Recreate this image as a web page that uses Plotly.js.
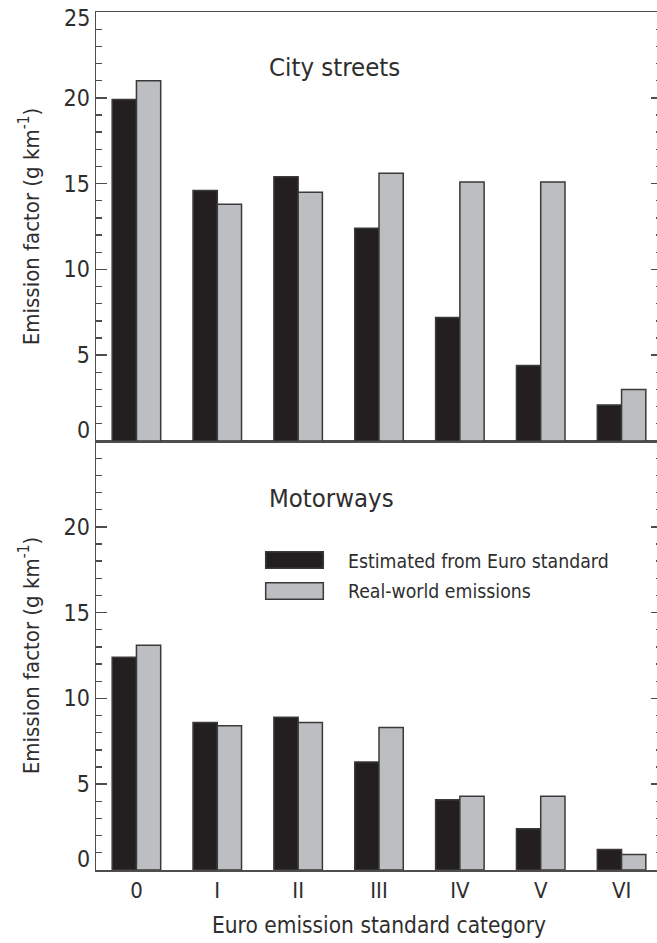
<!DOCTYPE html>
<html>
<head>
<meta charset="utf-8">
<script src="https://cdn.plot.ly/plotly-3.0.1.min.js"></script>
<style>
html,body{margin:0;padding:0;background:#fff;}
#wrap{width:657px;height:943px;overflow:hidden;position:relative;}
#chart{width:667px;height:943px;}
</style>
</head>
<body>
<div id="wrap"><div id="chart"></div></div>
<script>
// ---- data ----
const categories = ["0", "I", "II", "III", "IV", "V", "VI"];
const seriesNames = ["Estimated from Euro standard", "Real-world emissions"];
const cityEstimated = [19.9, 14.6, 15.4, 12.4, 7.2, 4.4, 2.1];
const cityRealWorld = [21.0, 13.8, 14.5, 15.6, 15.1, 15.1, 3.0];
const motorwayEstimated = [12.4, 8.6, 8.9, 6.3, 4.1, 2.4, 1.2];
const motorwayRealWorld = [13.1, 8.4, 8.6, 8.3, 4.3, 4.3, 0.9];
const yTickVals = [5, 10, 15, 20];
const yTickText = ["5", "10", "15", "20"];
const panelTitles = ["City streets", "Motorways"];
const yTitle = "Emission factor (g km<sup>-1</sup>)";
const xTitle = "Euro emission standard category";

// ---- style ----
const FONT = "'DejaVu Sans Condensed', 'Liberation Sans Narrow', sans-serif";
const TXT = "#2e2e2e";
const LINE = "#4d4d4d";
const DARK = "#231f20";
const GRAY = "#bcbec1";
const OUT = "#3a3a3a";

const barLine = {color: OUT, width: 1.5};
const traces = [
  {type: "bar", x: categories, y: cityEstimated, name: seriesNames[0], xaxis: "x2", yaxis: "y2",
   marker: {color: DARK, line: barLine}},
  {type: "bar", x: categories, y: cityRealWorld, name: seriesNames[1], xaxis: "x2", yaxis: "y2",
   marker: {color: GRAY, line: barLine}},
  {type: "bar", x: categories, y: motorwayEstimated, name: seriesNames[0], xaxis: "x", yaxis: "y",
   marker: {color: DARK, line: barLine}},
  {type: "bar", x: categories, y: motorwayRealWorld, name: seriesNames[1], xaxis: "x", yaxis: "y",
   marker: {color: GRAY, line: barLine}}
];

function yAxis(domain) {
  return {
    domain: domain, range: [0, 25], fixedrange: true,
    tickmode: "array", tickvals: yTickVals, ticktext: yTickText,
    ticks: "inside", ticklen: 11, tickwidth: 1.5, tickcolor: LINE,
    minor: {tickmode: "linear", tick0: 0, dtick: 1, ticks: "inside", ticklen: 6, tickwidth: 1.3, tickcolor: LINE},
    showline: true, linecolor: LINE, linewidth: 1.5, mirror: "ticks",
    showgrid: false, zeroline: false,
    tickfont: {family: FONT, size: 23, color: TXT},
    title: {text: yTitle, font: {family: FONT, size: 22, color: TXT}, standoff: 18},
    automargin: false
  };
}

const tickLabelFont = {family: FONT, size: 23, color: TXT};
function yLabelAnn(text, yref, y) {
  return {text: text, xref: "paper", yref: yref, x: 0, y: y, xanchor: "right", yanchor: "middle",
          xshift: -4, showarrow: false, font: tickLabelFont};
}

const layout = {
  width: 667, height: 943,
  margin: {l: 96, r: 5, t: 12, b: 73},
  paper_bgcolor: "#fff", plot_bgcolor: "#fff",
  showlegend: false,
  barmode: "group", bargap: 0.4, bargroupgap: 0,
  font: {family: FONT, color: TXT},
  xaxis: {
    anchor: "y", type: "category", categoryorder: "array", categoryarray: categories,
    range: [-0.5, categories.length - 0.5], fixedrange: true,
    showline: true, linecolor: LINE, linewidth: 1.5, mirror: true,
    ticks: "", showgrid: false, zeroline: false,
    tickfont: {family: FONT, size: 22, color: TXT},
    title: {text: xTitle, font: {family: FONT, size: 22.5, color: TXT}, standoff: 15},
    automargin: false
  },
  xaxis2: {
    anchor: "y2", matches: "x", type: "category",
    showline: true, linecolor: LINE, linewidth: 1.5, mirror: true,
    ticks: "", showticklabels: false, showgrid: false, zeroline: false
  },
  yaxis: yAxis([0, 0.5]),
  yaxis2: yAxis([0.5, 1]),
  annotations: [
    yLabelAnn("0", "y", 0.65),
    yLabelAnn("0", "y2", 0.65),
    yLabelAnn("25", "y2", 24.65),
    {text: panelTitles[0], xref: "paper", yref: "y2", x: 0.302, y: 21.8, xanchor: "left", yanchor: "middle",
     showarrow: false, font: {family: FONT, size: 25.5, color: TXT}},
    {text: panelTitles[1], xref: "paper", yref: "y", x: 0.302, y: 21.7, xanchor: "left", yanchor: "middle",
     showarrow: false, font: {family: FONT, size: 25.5, color: TXT}},
    {text: seriesNames[0], xref: "paper", yref: "paper", x: 0.4417, y: 0.3593, xanchor: "left", yanchor: "middle",
     showarrow: false, font: {family: FONT, size: 19.3, color: TXT}},
    {text: seriesNames[1], xref: "paper", yref: "paper", x: 0.4417, y: 0.3244, xanchor: "left", yanchor: "middle",
     showarrow: false, font: {family: FONT, size: 19.3, color: TXT}}
  ],
  shapes: [
    {type: "rect", xref: "paper", yref: "paper", x0: 0.2998, x1: 0.4016, y0: 0.3516, y1: 0.3710,
     fillcolor: DARK, line: {color: OUT, width: 1.5}},
    {type: "rect", xref: "paper", yref: "paper", x0: 0.2998, x1: 0.4016, y0: 0.3155, y1: 0.3348,
     fillcolor: GRAY, line: {color: OUT, width: 1.5}}
  ]
};

Plotly.newPlot("chart", traces, layout, {staticPlot: true, displayModeBar: false});
</script>
</body>
</html>
